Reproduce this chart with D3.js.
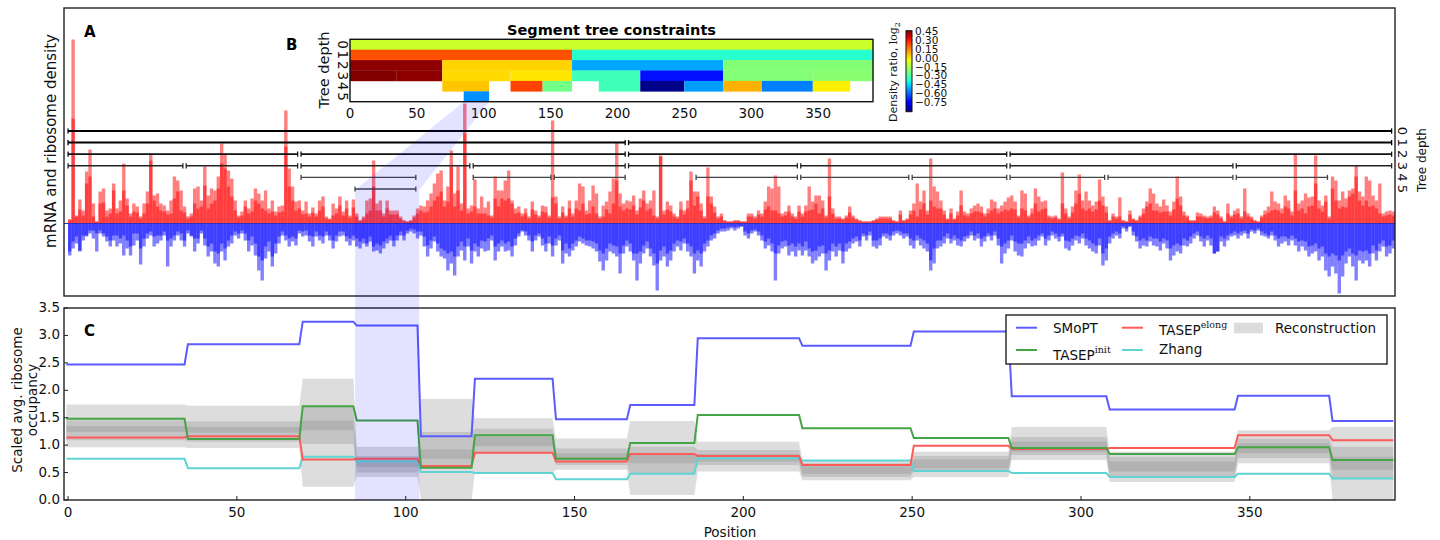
<!DOCTYPE html>
<html>
<head>
<meta charset="utf-8">
<script src="https://cdn.jsdelivr.net/npm/d3@7"></script>
<style>
  html, body { margin: 0; padding: 0; background: #fff; }
  svg { display: block; font-family: "DejaVu Sans", sans-serif; }
</style>
</head>
<body>
<svg id="fig" width="1440" height="540"></svg>
<script>
// ---- Panel A: mRNA (red, up) and ribosome (blue, down) densities, two overlaid reads each ----
const redHi = [
  4,184,8,24,13,52,74,20,2,32, 35,13,15,40,15,23,60,25,10,20, 17,7,20,32,70,28,30,20,18,13,
  23,47,43,33,17,7,10,35,37,23, 57,28,35,33,47,80,70,53,45,23, 8,12,23,15,25,35,30,23,33,15,
  23,12,17,18,113,55,37,22,23,13, 22,10,16,10,23,27,7,5,20,15, 27,12,23,8,24,10,3,7,23,25,
  63,20,23,10,23,13,13,13,7,3, 2,3,8,15,18,17,23,30,40,50, 53,23,37,73,30,57,20,120,
  15,18,44,15,27,16,22,8,47,33, 33,43,53,23,15,17,10,15,7,22, 13,8,18,17,8,103,27,7,17,8,
  23,10,23,40,37,13,23,38,30,7, 18,22,32,45,81,30,20,23,22,28, 13,25,33,20,23,33,7,68,13,22,
  18,10,7,22,13,23,52,32,32,20, 7,56,27,17,7,10,3,2,2,3, 3,2,2,10,10,7,13,10,22,37,
  35,48,37,10,12,18,10,7,18,10, 18,37,22,28,28,23,8,65,15,7, 7,5,8,17,8,5,3,2,2,2,
  3,5,7,7,7,7,3,2,13,3, 5,13,20,40,22,33,13,65,
  37,32,23,13,5,15,5,12,33,12, 10,15,18,20,17,10,15,24,22,15, 18,22,26,28,22,8,33,30,8,15,
  35,27,22,23,8,7,8,5,51,15, 7,17,33,49,23,32,23,18,22,44, 27,17,3,10,7,26,3,2,13,5,
  3,8,15,22,35,30,20,17,24,18, 12,22,47,27,12,8,3,3,11,10, 8,7,8,17,13,7,2,20,8,13,
  15,7,35,10,7,3,2,8,13,17, 32,22,20,15,28,23,12,70,20,23, 30,26,27,68,23,18,28,7,47,43,
  23,32,25,33,35,58,32,27,47,43, 28,23,40,10,12,13,12
];
const redLo = [
  4,105,7,14,8,40,47,7,2,20, 21,7,10,33,10,12,33,18,7,12, 11,5,10,20,63,23,17,13,12,9,
  10,25,32,13,11,5,7,20,15,17, 38,15,20,23,35,60,55,37,27,13, 6,8,17,10,12,23,20,15,13,10,
  12,8,11,12,77,37,23,13,15,9, 10,7,11,7,13,17,5,4,8,10, 18,8,15,6,16,7,3,5,10,13,
  37,13,13,7,15,9,9,9,5,3, 2,3,6,10,13,11,12,17,23,27, 32,17,22,57,17,33,13,90,
  10,12,17,10,10,10,8,6,25,17, 25,23,25,20,10,11,7,10,5,14, 9,6,12,11,6,26,20,5,11,6,
  15,7,15,13,20,9,10,17,10,5, 7,14,10,20,43,17,13,15,14,18, 9,16,23,13,15,8,5,67,9,14,
  12,7,5,14,9,15,43,18,27,13, 5,27,20,11,5,7,3,2,2,3, 3,2,2,7,7,5,9,7,14,17,
  13,13,10,7,8,12,7,5,12,7, 12,13,14,20,10,15,6,27,10,5, 5,4,6,11,6,4,3,2,2,2,
  3,4,5,5,5,5,3,2,9,3, 4,9,13,7,14,20,9,23,
  17,15,15,9,4,10,4,8,18,8, 7,10,12,12,11,7,10,13,15,10, 12,14,13,15,14,6,15,13,6,10,
  20,12,14,15,6,5,6,4,20,10, 5,11,20,30,15,13,15,12,14,23, 18,11,3,7,5,7,3,2,9,4,
  3,6,10,17,20,13,13,11,12,12, 8,14,25,18,8,6,3,3,7,7, 6,5,6,11,9,5,2,10,6,9,
  10,5,12,7,5,3,2,6,9,11, 13,14,13,10,17,15,8,33,13,15, 10,17,18,40,15,12,22,5,35,23,
  15,17,16,27,30,47,23,18,23,17, 18,15,10,7,8,9,8
];
const blueHi = [
  32,25,20,28,17,13,10,15,28,10, 13,18,23,17,23,20,32,25,32,22, 17,41,23,15,12,23,20,17,12,43,
  23,17,12,17,23,10,13,28,20,10, 22,33,28,40,43,28,37,23,20,12, 15,10,17,28,22,32,47,57,35,28,
  43,30,20,12,17,23,18,22,10,13, 12,18,23,13,17,20,12,17,25,18, 13,12,18,22,17,23,25,20,23,18,
  28,27,30,25,20,17,23,17,12,17, 10,8,10,15,12,23,33,25,18,28, 33,35,47,40,52,33,27,37,23,40,
  28,33,25,
  28,27,17,37,28,23,28,27,33,22, 13,8,12,17,28,17,13,22,28,20, 33,22,17,40,30,33,27,23,18,20,
  22,23,25,28,38,47,37,28,30,33, 50,30,23,28,37,57,40,30,25,33, 42,67,37,33,43,37,28,23,27,20,
  28,33,50,37,43,28,23,17,15, 10,8,8,7,5,7,5,3,12,15, 10,8,12,17,25,22,28,57,30,25,
  23,32,28,33,27,32,27,33,40,37, 33,30,47,37,28,33,27,40,28, 25,20,18,23,13,17,12,23,25,22,
  13,15,17,12,10,12,15,13,22,25, 17,22,25,28,47, 40,25,
  23,20,15,20,17,22,23,18,15,12, 17,15,23,18,13,17,12,22,40,30, 25,17,28,32,33,25,20,23,22,17,
  13,22,17,12,15,18,13,25,27,22, 17,20,15,22,25,28,30,22,42,37, 20,15,12,15,
  5,8,3,12,18,25,22,23,18,22, 23,27,20,25,37,32,28,30,22,23, 20,15,12,18,23,17,22,30,28,18,
  23,17,13,12,15,12,10,15,8,10, 7,12,13,15,12,17,23,20,18,22, 17,22,28,23,27,33,30,28,37,33,
  47,53,43,50,70,53,40,33,43,57, 37,40,37,43,30,37,28,23,33,30, 25
];
const blueLo = [
  28,18,13,27,12,12,7,7,10,7, 10,13,17,12,12,15,12,17,23,10, 10,25,15,10,8,13,12,12,8,17,
  15,12,8,10,17,7,12,15,15,7, 15,23,20,28,30,20,25,17,12,8, 10,7,10,17,13,20,33,37,23,18,
  33,20,13,8,12,15,13,15,7,8, 7,12,13,8,12,13,8,12,17,12, 8,8,13,15,12,15,18,15,20,13,
  23,20,22,18,15,12,17,12,8,12, 7,5,6,8,8,13,22,17,13,20, 25,27,30,28,33,23,18,23,15,27,
  20,23,17,
  18,15,12,23,20,17,20,18,23,15, 10,7,8,12,18,12,10,15,20,13, 22,15,12,27,20,25,20,17,13,15,
  17,17,18,20,27,30,25,20,22,23, 30,22,17,20,30,30,28,22,18,25, 30,40,27,23,30,27,20,17,18,15,
  20,23,30,27,30,20,17,12,10, 7,5,5,4,3,4,3,3,8,10, 7,6,8,12,18,15,20,30,22,18,
  17,22,20,23,20,23,18,25,28,27, 23,22,30,27,20,23,20,28,20, 18,15,13,17,10,12,8,17,17,15,
  10,10,12,8,7,8,10,10,15,17, 12,15,17,20,37, 25,17,
  17,13,10,15,12,15,17,13,12,8, 12,10,15,13,10,12,8,15,23,20, 17,12,18,20,20,17,13,17,15,12,
  10,15,12,8,10,13,10,17,18,15, 12,13,10,15,17,20,22,15,30,25, 13,10,8,10,
  3,5,3,8,13,17,15,17,13,15, 15,18,15,17,25,22,20,22,15,17, 13,10,8,13,15,12,15,30,28,13,
  15,12,10,8,10,8,7,10,6,7, 5,8,10,12,8,12,15,13,13,15, 12,15,18,17,18,23,22,20,25,23,
  30,33,30,32,37,32,28,25,30,32, 27,28,27,30,22,27,20,17,23,22, 17
];

// ---- Segment tree (panel A brackets and panel B heatmap) ----
const segDepth = [0, 1,1, 2,2,2,2, 3,3,3,3,3,3,3,3, 4,4,4,4,4,4,4,4,4, 5];
const segStart = [0, 0,166, 0,69,166,279, 0,35,69,120,166,217,279,346, 69,120,144,186,217,250,279,308,346, 85];
const segEnd   = [393, 166,393, 69,166,279,393, 35,69,120,166,217,279,346,393, 104,144,166,217,250,279,308,346,374, 104];
const segRatio = [-0.08, 0.23,-0.35, 0.45,0.04,-0.50,-0.20, 0.467,0.45,0.03,0.015,-0.31,-0.70,-0.20,-0.19,
                  0.06,0.25,-0.23,-0.31,-0.88,-0.51,0.09,-0.55,0.0, -0.53];
const cbTicks = [0.45, 0.30, 0.15, 0.00, -0.15, -0.30, -0.45, -0.60, -0.75];
const hmTicks = [0, 50, 100, 150, 200, 250, 300, 350];

// ---- Panel C: scaled average ribosome occupancy per leaf segment ----
const segEdges   = [0,35,69,85,104,120,144,166,186,217,250,279,308,346,374,393];
const smopt      = [2.47,2.84,3.25,3.18,1.16,2.21,1.47,1.73,2.95,2.81,3.07,1.89,1.65,1.90,1.44];
const tasepInit  = [1.48,1.11,1.71,1.45,0.59,1.18,0.75,1.04,1.55,1.31,1.13,0.95,0.84,0.96,0.73];
const tasepElong = [1.14,1.16,0.74,0.75,0.62,0.86,0.70,0.84,0.80,0.64,0.99,0.93,0.95,1.18,1.09];
const zhang      = [0.75,0.58,0.79,0.70,0.51,0.49,0.38,0.48,0.76,0.72,0.53,0.49,0.42,0.48,0.39];
const recOuterHi = [1.74,1.72,2.21,0.97,1.84,1.49,1.12,1.44,1.06,0.73,0.88,1.33,0.88,1.27,1.33];
const recOuterLo = [0.96,0.95,0.24,0.42,0.00,0.50,0.55,0.09,0.52,0.36,0.42,0.73,0.33,0.67,0.00];
const recMidHi   = [1.45,1.43,1.70,0.80,1.24,1.30,0.94,0.97,0.91,0.67,0.80,1.15,0.79,1.12,0.97];
const recMidLo   = [1.09,1.06,1.02,0.50,0.57,0.86,0.64,0.48,0.64,0.42,0.52,0.82,0.42,0.76,0.39];
const recInHi    = [1.35,1.33,1.45,0.73,0.92,1.15,0.85,0.84,0.84,0.61,0.74,1.06,0.70,1.03,0.79];
const recInLo    = [1.24,1.23,1.27,0.60,0.75,0.98,0.73,0.67,0.70,0.48,0.58,0.88,0.52,0.85,0.55];
const xTicksC = [0, 50, 100, 150, 200, 250, 300, 350];
const yTicksC = [0.0, 0.5, 1.0, 1.5, 2.0, 2.5, 3.0, 3.5];
const highlight = [85, 104];   // the segment traced from B down through A and C

const svg = d3.select('#fig');

// shared position scale for A and C
const x = d3.scaleLinear().domain([-1.2, 393]).range([64, 1395]);
const A = { top: 8, bottom: 296 };
const yA = d3.scaleLinear().domain([-72.5, 215.5]).range([A.bottom, A.top]);
const y0 = yA(0);

const defs = svg.append('defs');
defs.append('clipPath').attr('id', 'clipA').append('rect')
  .attr('x', x.range()[0]).attr('y', A.top).attr('width', x.range()[1] - x.range()[0]).attr('height', A.bottom - A.top);

// ---- A: bars ----
const gA = svg.append('g').attr('clip-path', 'url(#clipA)');
function bars(vals, up, color) {
  gA.append('g').selectAll('rect').data(vals).join('rect')
    .attr('x', (d, i) => x(i))
    .attr('width', (d, i) => x(i + 1) - x(i))
    .attr('y', d => up ? yA(d) : y0)
    .attr('height', d => up ? y0 - yA(d) : yA(-d) - y0)
    .attr('fill', color).attr('fill-opacity', 0.5);
}
bars(redHi, true, '#ff0000');
bars(redLo, true, '#ff0000');
bars(blueHi, false, '#0000ff');
bars(blueLo, false, '#0000ff');
gA.append('line').attr('x1', x.range()[0]).attr('x2', x.range()[1]).attr('y1', y0).attr('y2', y0)
  .attr('stroke', '#3030b8').attr('stroke-width', 1);

// ---- A: segment tree brackets ----
const yT = d3.scaleLinear().domain([0, 5]).range([131, 189]);
const treeStroke = ['#000', '#000', '#111', '#222', '#444', '#444'];
const treeWidth = [2, 2, 1.8, 1.6, 1.3, 1.3];
const gT = svg.append('g');
segDepth.forEach((d, k) => {
  const a = x(segStart[k]), b = x(Math.min(segEnd[k] - 1, 392)), yy = yT(d);
  gT.append('line').attr('x1', a).attr('x2', b).attr('y1', yy).attr('y2', yy)
    .attr('stroke', treeStroke[d]).attr('stroke-width', treeWidth[d]);
  [a, b].forEach(px => gT.append('line').attr('x1', px).attr('x2', px)
    .attr('y1', yy - 2.6).attr('y2', yy + 2.6).attr('stroke', treeStroke[d]).attr('stroke-width', 1.3));
});
d3.range(6).forEach(d => {
  svg.append('text').attr('transform', `translate(1398,${yT(d)}) rotate(90)`)
    .attr('text-anchor', 'middle').attr('font-size', 13).attr('fill', '#111').text(d);
});
svg.append('text').attr('transform', `translate(1426,${yT(2.5)}) rotate(-90)`)
  .attr('text-anchor', 'middle').attr('font-size', 12).attr('fill', '#111').text('Tree depth');

svg.append('rect').attr('x', x.range()[0]).attr('y', A.top)
  .attr('width', x.range()[1] - x.range()[0]).attr('height', A.bottom - A.top)
  .attr('fill', 'none').attr('stroke', '#222').attr('stroke-width', 1.4);
svg.append('text').attr('transform', `translate(56,141) rotate(-90)`)
  .attr('text-anchor', 'middle').attr('font-size', 15).attr('fill', '#111')
  .text('mRNA and ribosome density');
svg.append('text').attr('x', 84).attr('y', 37).attr('font-size', 15).attr('font-weight', 'bold').text('A');

// ---- B: heatmap of segment tree constraints ----
const HM = { left: 350, right: 873, top: 39.3, bottom: 101.7 };
const xH = d3.scaleLinear().domain([0, 391]).range([HM.left, HM.right]).clamp(true);
const rowH = (HM.bottom - HM.top) / 6;
const vmin = -0.89, vmax = 0.467;
const jetR = d3.scaleLinear().domain([0, 0.35, 0.66, 0.89, 1]).range([0, 0, 1, 1, 0.5]).clamp(true);
const jetG = d3.scaleLinear().domain([0, 0.125, 0.375, 0.64, 0.91, 1]).range([0, 0, 1, 1, 0, 0]).clamp(true);
const jetB = d3.scaleLinear().domain([0, 0.11, 0.34, 0.65, 1]).range([0.5, 1, 1, 0, 0]).clamp(true);
const jet = t => d3.rgb(255 * jetR(t), 255 * jetG(t), 255 * jetB(t)).formatHex();
const tOf = d3.scaleLinear().domain([vmin, vmax]).range([0, 1]).clamp(true);

svg.append('rect').attr('x', HM.left).attr('y', HM.top).attr('width', HM.right - HM.left)
  .attr('height', HM.bottom - HM.top).attr('fill', '#fff');
svg.append('g').selectAll('rect').data(segDepth).join('rect')
  .attr('x', (d, k) => xH(segStart[k]))
  .attr('width', (d, k) => xH(segEnd[k]) - xH(segStart[k]))
  .attr('y', d => HM.top + d * rowH)
  .attr('height', rowH + 0.3)
  .attr('fill', (d, k) => jet(tOf(segRatio[k])));
svg.append('rect').attr('x', HM.left).attr('y', HM.top).attr('width', HM.right - HM.left)
  .attr('height', HM.bottom - HM.top).attr('fill', 'none').attr('stroke', '#111').attr('stroke-width', 1.4);
hmTicks.forEach(t => svg.append('text').attr('x', xH(t)).attr('y', 118)
  .attr('text-anchor', 'middle').attr('font-size', 13.5).attr('fill', '#111').text(t));
d3.range(6).forEach(d => svg.append('text')
  .attr('transform', `translate(338,${HM.top + (d + 0.5) * rowH}) rotate(90)`)
  .attr('text-anchor', 'middle').attr('font-size', 13.5).attr('fill', '#111').text(d));
svg.append('text').attr('transform', `translate(329,70) rotate(-90)`)
  .attr('text-anchor', 'middle').attr('font-size', 14.5).attr('fill', '#111').text('Tree depth');
svg.append('text').attr('x', (HM.left + HM.right) / 2).attr('y', 35).attr('text-anchor', 'middle')
  .attr('font-size', 14.5).attr('font-weight', 'bold').text('Segment tree constraints');
svg.append('text').attr('x', 286).attr('y', 50).attr('font-size', 15).attr('font-weight', 'bold').text('B');

// colorbar
const CB = { left: 906, width: 6, top: 30.7, bottom: 111.7 };
const yCb = d3.scaleLinear().domain([vmin, vmax]).range([CB.bottom, CB.top]);
const grad = defs.append('linearGradient').attr('id', 'jetGrad')
  .attr('x1', 0).attr('y1', 1).attr('x2', 0).attr('y2', 0);
d3.range(0, 1.0001, 0.02).forEach(t => grad.append('stop').attr('offset', t).attr('stop-color', jet(t)));
svg.append('rect').attr('x', CB.left).attr('y', CB.top).attr('width', CB.width)
  .attr('height', CB.bottom - CB.top).attr('fill', 'url(#jetGrad)').attr('stroke', '#111').attr('stroke-width', 1);
cbTicks.forEach(v => svg.append('text').attr('x', CB.left + CB.width + 3).attr('y', yCb(v))
  .attr('dominant-baseline', 'middle').attr('font-size', 10.5).attr('fill', '#111')
  .text(d3.format('.2f')(v).replace('-', '\u2212')));
const cbl = svg.append('text').attr('transform', `translate(897,72) rotate(-90)`)
  .attr('text-anchor', 'middle').attr('font-size', 11).attr('fill', '#111');
cbl.append('tspan').text('Density ratio, ');
cbl.append('tspan').attr('font-family', '"DejaVu Serif", serif').text('log');
cbl.append('tspan').attr('font-family', '"DejaVu Serif", serif').attr('font-size', 8).attr('dy', 3).text('2');

// ---- C: occupancy step lines ----
const C = { top: 308, bottom: 500 };
const yC = d3.scaleLinear().domain([0, 3.5]).range([C.bottom, C.top]);
function stepPts(vals) {
  const pts = [];
  vals.forEach((v, k) => {
    const a = segEdges[k] + (k === 0 ? -0.5 : 0.5);
    const b = segEdges[k + 1] - 0.5;
    pts.push([a, v], [b, v]);
  });
  return pts;
}
defs.append('clipPath').attr('id', 'clipC').append('rect')
  .attr('x', x.range()[0]).attr('y', C.top).attr('width', x.range()[1] - x.range()[0]).attr('height', C.bottom - C.top);
const gC = svg.append('g').attr('clip-path', 'url(#clipC)');
function band(lo, hi) {
  const pl = stepPts(lo), ph = stepPts(hi);
  const area = d3.area().x(d => x(d[0])).y0(d => yC(d[1])).y1(d => yC(d[2]));
  gC.append('path').datum(pl.map((p, i) => [p[0], p[1], ph[i][1]]))
    .attr('d', area).attr('fill', '#808080').attr('fill-opacity', 0.27);
}
band(recOuterLo, recOuterHi);
band(recMidLo, recMidHi);
band(recInLo, recInHi);
const line = d3.line().x(d => x(d[0])).y(d => yC(d[1]));
const series = [
  { name: 'SMoPT', vals: smopt, color: '#5b5bff' },
  { name: 'TASEPinit', vals: tasepInit, color: '#45a445' },
  { name: 'TASEPelong', vals: tasepElong, color: '#ff5a5a' },
  { name: 'Zhang', vals: zhang, color: '#5fd4d4' }
];
series.slice().reverse().forEach(s => gC.append('path').datum(stepPts(s.vals)).attr('d', line)
  .attr('fill', 'none').attr('stroke', s.color).attr('stroke-width', 2));

svg.append('rect').attr('x', x.range()[0]).attr('y', C.top)
  .attr('width', x.range()[1] - x.range()[0]).attr('height', C.bottom - C.top)
  .attr('fill', 'none').attr('stroke', '#222').attr('stroke-width', 1.4);
xTicksC.forEach(t => {
  svg.append('line').attr('x1', x(t)).attr('x2', x(t)).attr('y1', C.bottom).attr('y2', C.bottom - 4).attr('stroke', '#222');
  svg.append('text').attr('x', x(t)).attr('y', 517).attr('text-anchor', 'middle')
    .attr('font-size', 13.5).attr('fill', '#111').text(t);
});
yTicksC.forEach(t => {
  svg.append('line').attr('x1', x.range()[0]).attr('x2', x.range()[0] + 4).attr('y1', yC(t)).attr('y2', yC(t)).attr('stroke', '#222');
  svg.append('text').attr('x', 60).attr('y', yC(t)).attr('text-anchor', 'end')
    .attr('dominant-baseline', 'middle').attr('font-size', 13.5).attr('fill', '#111').text(t.toFixed(1));
});
svg.append('text').attr('x', 730).attr('y', 537).attr('text-anchor', 'middle')
  .attr('font-size', 13.5).attr('fill', '#111').text('Position');
svg.append('text').attr('transform', 'translate(22,400) rotate(-90)').attr('text-anchor', 'middle')
  .attr('font-size', 13.5).attr('fill', '#111').text('Scaled avg. ribosome');
svg.append('text').attr('transform', 'translate(37,400) rotate(-90)').attr('text-anchor', 'middle')
  .attr('font-size', 13.5).attr('fill', '#111').text('occupancy');
svg.append('text').attr('x', 84).attr('y', 336).attr('font-size', 15).attr('font-weight', 'bold').text('C');

// legend
const lg = svg.append('g');
lg.append('rect').attr('x', 1006).attr('y', 315).attr('width', 381).attr('height', 49)
  .attr('fill', '#fff').attr('stroke', '#111').attr('stroke-width', 1.3);
function legLine(x0, yy, color) {
  lg.append('line').attr('x1', x0).attr('x2', x0 + 21).attr('y1', yy).attr('y2', yy)
    .attr('stroke', color).attr('stroke-width', 2);
}
function legText(x0, yy, main, sup) {
  const t = lg.append('text').attr('x', x0).attr('y', yy).attr('font-size', 13.5).attr('fill', '#111');
  t.append('tspan').text(main);
  if (sup) t.append('tspan').attr('font-family', '"DejaVu Serif", serif').attr('font-size', 9.5)
    .attr('dy', -7).text(sup);
}
legLine(1016, 327.7, series[0].color); legText(1053, 333, 'SMoPT');
legLine(1016, 350, series[1].color);   legText(1053, 360, 'TASEP', 'init');
legLine(1122, 327.7, series[2].color); legText(1159, 335, 'TASEP', 'elong');
legLine(1122, 350, series[3].color);   legText(1159, 354, 'Zhang');
lg.append('rect').attr('x', 1234).attr('y', 322.7).attr('width', 29).attr('height', 10.6).attr('fill', '#dcdcdc');
legText(1275, 333, 'Reconstruction');

// ---- highlight band tracing the depth-5 segment from B through A and C ----
const yJoin = yT(5) + 1;
const bandPts = [
  [xH(highlight[0]), HM.bottom], [xH(highlight[1]), HM.bottom],
  [x(highlight[1]), yJoin], [x(highlight[1]), C.bottom],
  [x(highlight[0]), C.bottom], [x(highlight[0]), yJoin]
];
svg.append('polygon').attr('points', bandPts.map(p => p.join(',')).join(' '))
  .attr('fill', '#0000ff').attr('fill-opacity', 0.11);
</script>
</body>
</html>
